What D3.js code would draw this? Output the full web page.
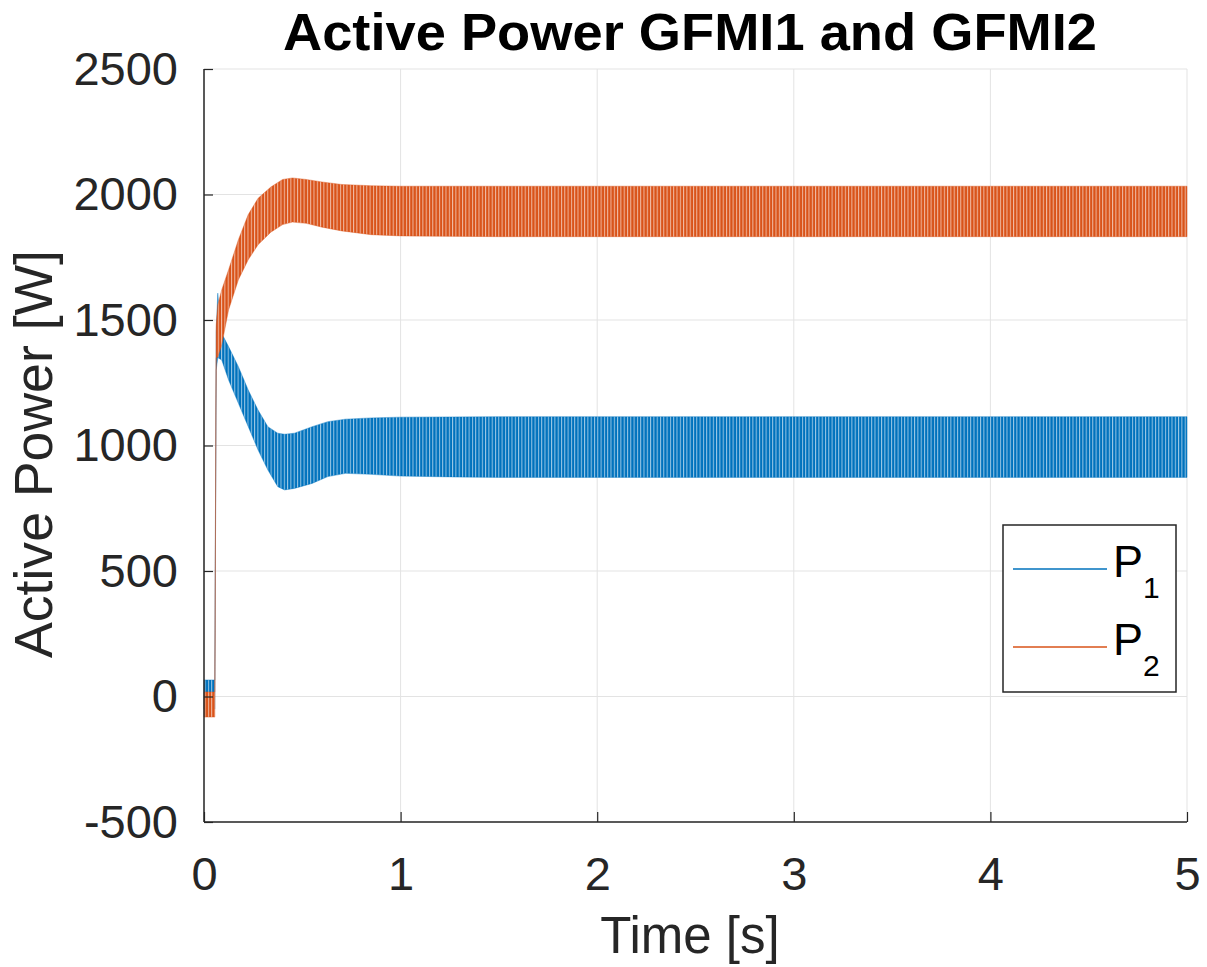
<!DOCTYPE html>
<html><head><meta charset="utf-8">
<script src="https://cdn.jsdelivr.net/npm/d3@7"></script>
<style>body{margin:0;background:#fff}</style>
</head><body><svg id="c" width="1207" height="967"></svg>
<script>
// ---- data (envelopes of the oscillating signals) ----
const xTicks = [0, 1, 2, 3, 4, 5];
const yTicks = [-500, 0, 500, 1000, 1500, 2000, 2500];
const seriesNames = ["P1", "P2"];

const p1Time  = [0, 0.055, 0.062, 0.07, 0.09, 0.125, 0.175, 0.225, 0.275, 0.325, 0.375, 0.41, 0.46, 0.55, 0.63, 0.72, 0.85, 1.0, 1.25, 1.5, 2, 2.5, 3, 3.5, 4, 4.5, 5];
const p1Upper = [66, 66, 1450, 1607, 1447, 1394, 1314, 1221, 1141, 1075, 1049, 1045, 1049, 1075, 1095, 1105, 1110, 1113, 1114, 1115, 1115, 1115, 1115, 1115, 1115, 1115, 1115];
const p1Lower = [-50, -50, 1300, 1350, 1341, 1261, 1168, 1075, 982, 902, 836, 823, 829, 849, 876, 889, 885, 878, 875, 873, 873, 873, 873, 873, 873, 873, 873];

const p2Time  = [0, 0.055, 0.062, 0.07, 0.09, 0.125, 0.175, 0.225, 0.275, 0.34, 0.40, 0.45, 0.52, 0.6, 0.7, 0.85, 1.0, 1.5, 2, 2.5, 3, 3.5, 4, 4.5, 5];
const p2Upper = [18, 18, 1480, 1560, 1620, 1700, 1820, 1920, 1985, 2030, 2060, 2066, 2060, 2050, 2040, 2035, 2033, 2033, 2033, 2033, 2033, 2033, 2033, 2033, 2033];
const p2Lower = [-82, -82, 1350, 1352, 1400, 1540, 1660, 1740, 1800, 1850, 1880, 1890, 1885, 1870, 1855, 1840, 1835, 1832, 1832, 1832, 1832, 1832, 1832, 1832, 1832];

// ---- layout ----
const svg = d3.select("#c");
const FONT = "'Liberation Sans', Arial, Helvetica, sans-serif";
const x = d3.scaleLinear().domain([0, 5]).range([204, 1187]);
const y = d3.scaleLinear().domain([-500, 2500]).range([822, 69]);
const colors = ["#0072BD", "#D95319"];

// patterns to mimic dense oscillation texture
const defs = svg.append("defs");
colors.forEach((c, i) => {
  const p = defs.append("pattern").attr("id", "pat" + i)
    .attr("patternUnits", "userSpaceOnUse").attr("width", 3.3).attr("height", 20);
  p.append("rect").attr("width", 3.3).attr("height", 20).attr("fill", c);
  p.append("rect").attr("x", 0).attr("width", 1).attr("height", 20).attr("fill", "#fff").attr("opacity", 0.6);
});

// grid
const grid = svg.append("g").attr("stroke", "#e3e3e3").attr("stroke-width", 1);
xTicks.forEach(t => grid.append("line").attr("x1", x(t)).attr("x2", x(t)).attr("y1", y(-500)).attr("y2", y(2500)));
yTicks.forEach(t => grid.append("line").attr("x1", x(0)).attr("x2", x(5)).attr("y1", y(t)).attr("y2", y(t)));

// series bands
function band(time, up, lo, i) {
  const data = time.map((t, k) => ({t, u: up[k], l: lo[k]}));
  const area = d3.area().x(d => x(d.t)).y0(d => y(d.l)).y1(d => y(d.u));
  svg.append("path").datum(data).attr("d", area)
    .attr("fill", "url(#pat" + i + ")").attr("stroke", colors[i]).attr("stroke-width", 0.8).attr("stroke-opacity", 0.5);
}
band(p1Time, p1Upper, p1Lower, 0);
band(p2Time, p2Upper, p2Lower, 1);

// axes
const ax = svg.append("g").attr("transform", `translate(0,${y(-500)})`)
  .call(d3.axisBottom(x).tickValues(xTicks).tickSize(-10).tickPadding(35).tickFormat(d3.format("d")));
const ay = svg.append("g").attr("transform", `translate(${x(0)},0)`)
  .call(d3.axisLeft(y).tickValues(yTicks).tickSize(-9).tickPadding(26).tickFormat(d => String(d)));
[ax, ay].forEach(g => {
  g.select(".domain").remove();
  g.selectAll(".tick line").attr("stroke", "#262626").attr("stroke-width", 1.2);
  g.selectAll("text").attr("fill", "#262626").style("font-family", FONT).style("font-size", "47px");
});
svg.append("line").attr("x1", x(0)).attr("x2", x(5)).attr("y1", y(-500)).attr("y2", y(-500)).attr("stroke", "#262626").attr("stroke-width", 1.5);
svg.append("line").attr("x1", x(0)).attr("x2", x(0)).attr("y1", y(-500)).attr("y2", y(2500)).attr("stroke", "#262626").attr("stroke-width", 1.5);

// title and labels
svg.append("text").attr("x", 690).attr("y", 50).attr("text-anchor", "middle")
  .attr("textLength", 814).attr("lengthAdjust", "spacingAndGlyphs")
  .style("font-family", FONT).style("font-size", "52px").style("font-weight", "bold").attr("fill", "#000")
  .text("Active Power GFMI1 and GFMI2");
svg.append("text").attr("x", 690).attr("y", 953).attr("text-anchor", "middle")
  .style("font-family", FONT).style("font-size", "51px").attr("fill", "#262626").text("Time [s]");
svg.append("text").attr("transform", "translate(52,454) rotate(-90)").attr("text-anchor", "middle")
  .attr("textLength", 408).attr("lengthAdjust", "spacingAndGlyphs")
  .style("font-family", FONT).style("font-size", "53px").attr("fill", "#262626").text("Active Power [W]");

// legend
const lg = svg.append("g");
lg.append("rect").attr("x", 1003).attr("y", 525).attr("width", 173).attr("height", 167)
  .attr("fill", "#fff").attr("stroke", "#262626").attr("stroke-width", 1.5);
const legY = [569, 647];
seriesNames.forEach((n, i) => {
  lg.append("line").attr("x1", 1013).attr("x2", 1107).attr("y1", legY[i]).attr("y2", legY[i])
    .attr("stroke", colors[i]).attr("stroke-width", 1.5);
  const t = lg.append("text").attr("x", 1113).attr("y", legY[i] + 8)
    .style("font-family", FONT).style("font-size", "45px").attr("fill", "#000");
  t.append("tspan").text("P");
  t.append("tspan").attr("dx", 0).attr("dy", 21).style("font-size", "30px").text(String(i + 1));
});
</script>
</body></html>
